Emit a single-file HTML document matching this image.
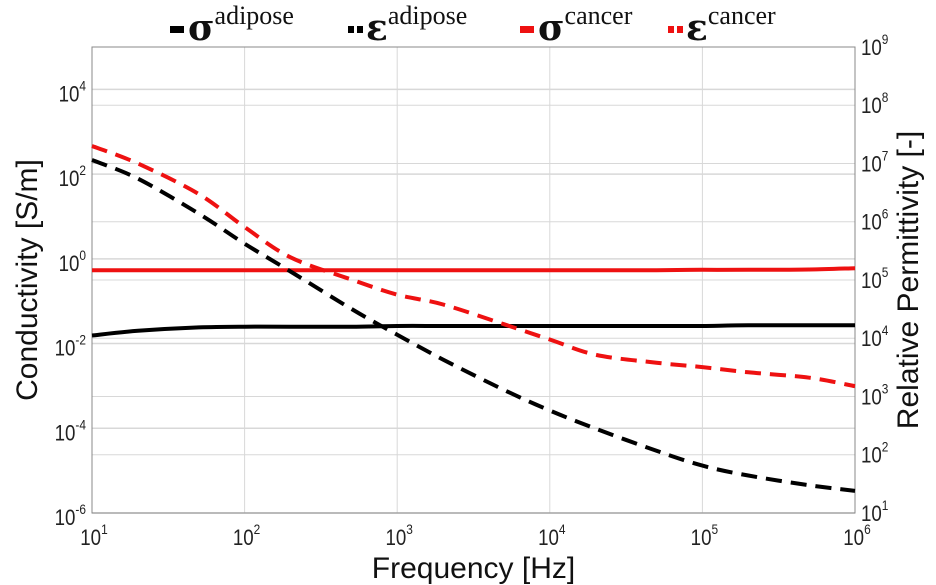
<!DOCTYPE html>
<html><head><meta charset="utf-8"><style>
body{margin:0;background:#fff;}
svg{display:block;font-family:"Liberation Sans",Arial,sans-serif;}
</style></head><body>
<svg id="chart" width="936" height="585" viewBox="0 0 936 585"></svg>
<script>
const freqs=[10,20,50,100,200,500,1000,2000,5000,1e4,2e4,5e4,1e5,2e5,5e5,1e6];
const sigmaAdipose=[0.0155,0.02,0.024,0.025,0.025,0.025,0.026,0.026,0.026,0.026,0.026,0.026,0.026,0.027,0.027,0.027];
const sigmaCancer=[0.54,0.54,0.54,0.54,0.54,0.54,0.54,0.54,0.54,0.54,0.54,0.54,0.55,0.55,0.56,0.6];
const epsAdipose=[1.15e7,5.5e6,1.38e6,4.2e5,1.4e5,3.2e4,1.15e4,4.3e3,1.3e3,575,280,117,65,44,30,24];
const epsCancer=[2e7,1e7,3e6,8.1e5,2.45e5,1.02e5,5.6e4,3.8e4,1.74e4,9.5e3,5.2e3,3.8e3,3.2e3,2.6e3,2.1e3,1.5e3];
const xTicks=[1,2,3,4,5,6];
const yLeftTicks=[-6,-4,-2,0,2,4];
const yRightTicks=[1,2,3,4,5,6,7,8,9];

const NS="http://www.w3.org/2000/svg";
const svg=document.getElementById('chart');
const L=92,R=855,T=47,B=513;
const x=f=>L+(Math.log10(f)-1)/5*(R-L);
const yL=v=>B-(Math.log10(v)+6)/11*(B-T);
const yR=v=>B-(Math.log10(v)-1)/8*(B-T);
function mk(tag,attrs,parent){const e=document.createElementNS(NS,tag);for(const k in attrs)e.setAttribute(k,attrs[k]);(parent||svg).appendChild(e);return e;}

for(let d=1;d<=6;d++){const g=mk('line',{x1:x(10**d),x2:x(10**d),y1:T,y2:B,stroke:'#d8d8d8','stroke-width':1});

}
yLeftTicks.forEach(t=>{const g=mk('line',{x1:L,x2:R,y1:yL(10**t),y2:yL(10**t),stroke:'#d8d8d8','stroke-width':1.5});

});
yRightTicks.forEach(t=>{const g=mk('line',{x1:L,x2:R,y1:yR(10**t),y2:yR(10**t),stroke:'#d8d8d8','stroke-width':1});

});
const frame=mk('rect',{x:L,y:T,width:R-L,height:B-T,fill:'none',stroke:'#888','stroke-width':1});



function tickLabel(px,py,exp,anchor,name){
 const t=mk('text',{x:px,y:py,'font-size':22,'text-anchor':anchor,fill:'#222',transform:'translate('+px+','+py+') scale(0.85,1) translate('+(-px)+','+(-py)+')'});
 
 
 t.innerHTML='10<tspan dy="-11" font-size="14">'+exp+'</tspan>';
}
xTicks.forEach(d=>tickLabel(x(10**d)+2,B+32,d,'middle','x-tick-label'));
yLeftTicks.forEach(d=>tickLabel(L-6,yL(10**d)+12,d,'end','y-left-tick-label'));
yRightTicks.forEach(d=>tickLabel(R+6,yR(10**d)+8,d,'start','y-right-tick-label'));

function path(arr,scale,color,dash,name){
 const P=freqs.map((f,i)=>[x(f),scale(arr[i])]);
 let d='M'+P[0][0].toFixed(1)+','+P[0][1].toFixed(1);
 for(let i=0;i<P.length-1;i++){
  const p0=P[Math.max(0,i-1)],p1=P[i],p2=P[i+1],p3=P[Math.min(P.length-1,i+2)];
  const c1=[p1[0]+(p2[0]-p0[0])/6,p1[1]+(p2[1]-p0[1])/6];
  const c2=[p2[0]-(p3[0]-p1[0])/6,p2[1]-(p3[1]-p1[1])/6];
  d+=' C'+c1.map(v=>v.toFixed(1))+' '+c2.map(v=>v.toFixed(1))+' '+p2.map(v=>v.toFixed(1));
 }
 const p=mk('path',{d:d,fill:'none',stroke:color,'stroke-width':4,'stroke-dasharray':dash||'none','stroke-linejoin':'round'});
 
 
}
path(sigmaCancer,yL,'#ee1111',null,'sigma-cancer-line');
path(sigmaAdipose,yL,'#000',null,'sigma-adipose-line');
path(epsCancer,yR,'#ee1111','16 9','eps-cancer-line');
path(epsAdipose,yR,'#000','16 9','eps-adipose-line');

const xt=mk('text',{x:(L+R)/2,y:578,'font-size':30,'text-anchor':'middle',fill:'#111'});xt.textContent='Frequency [Hz]';


const yt=mk('text',{x:0,y:0,'font-size':30,'text-anchor':'middle',fill:'#111',transform:'translate(37,'+((T+B)/2)+') rotate(-90)'});yt.textContent='Conductivity [S/m]';


const yt2=mk('text',{x:0,y:0,'font-size':30,'text-anchor':'middle',fill:'#111',transform:'translate(918,'+((T+B)/2)+') rotate(-90)'});yt2.textContent='Relative Permittivity [-]';



const leg=[['σ','adipose','#000',false,170],['ε','adipose','#000',true,348],['σ','cancer','#ee1111',false,520],['ε','cancer','#ee1111',true,668]];
leg.forEach(l=>{
 const g=mk('g',{});
 
 
 if(l[3]){mk('rect',{x:l[4],y:26,width:6,height:7,fill:l[2]},g);mk('rect',{x:l[4]+9,y:26,width:6,height:7,fill:l[2]},g);}
 else mk('rect',{x:l[4],y:26,width:14,height:7,fill:l[2]},g);
 const t=mk('text',{x:l[4]+18,y:40,'font-size':36,'font-weight':'bold','font-family':'"DejaVu Serif",serif',fill:'#111'},g);
 t.innerHTML=l[0]+'<tspan dy="-16" font-size="26" font-weight="normal" font-family="Liberation Serif, serif">'+l[1]+'</tspan>';
});
</script>
</body></html>
